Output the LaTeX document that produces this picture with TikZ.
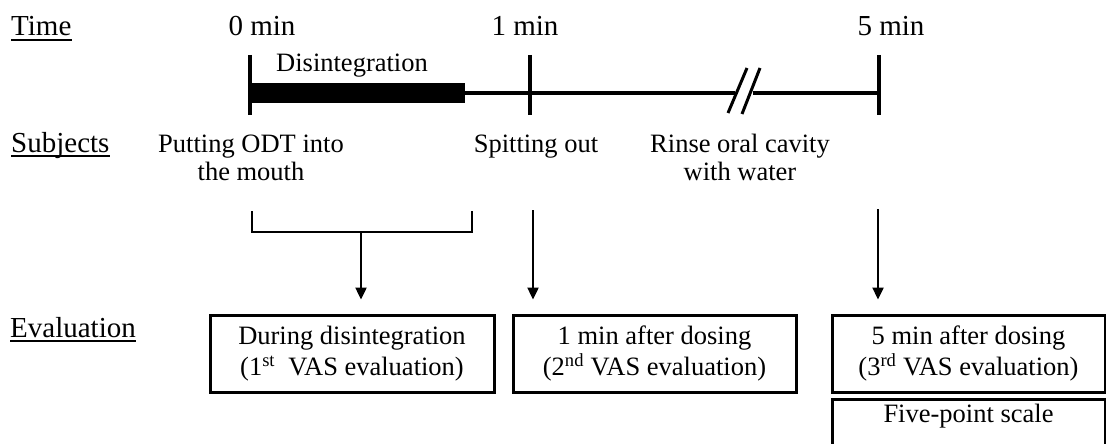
\documentclass[tikz,border=0pt]{standalone}
\usepackage{fontspec}
\setmainfont{Liberation Serif}
\usetikzlibrary{arrows.meta}
\begin{document}
\begin{tikzpicture}[x=1pt,y=-1pt,
  head/.style={anchor=base west,inner sep=0pt,font=\fontsize{29}{35}\selectfont},
  tlabel/.style={anchor=base,inner sep=0pt,font=\fontsize{29}{35}\selectfont},
  body/.style={anchor=base,inner sep=0pt,align=center,font=\fontsize{26.5}{28}\selectfont},
  evalbox/.style={draw,line width=3pt,minimum height=77pt,inner sep=0pt,align=center,font=\fontsize{26.5}{31}\selectfont},
  boxline/.style={draw,line width=3pt},
  tickline/.style={line width=4pt},
  axisline/.style={line width=4pt},
  slash/.style={line width=3pt},
  arr/.style={line width=2.4pt,-{Triangle[width=11pt,length=12pt]},shorten >=14pt},
  uline/.style={line width=1.6pt}]
\useasboundingbox (0,0) rectangle (1106,444);

% headings
\node[head] (time) at (11,36) {Time};
\node[head] (subj) at (11,152) {Subjects};
\node[head] (eval) at (10,337) {Evaluation};
\draw[uline] ([yshift=-4pt]time.base west) -- ([yshift=-4pt]time.base east);
\draw[uline] ([yshift=-4pt]subj.base west) -- ([yshift=-4pt]subj.base east);
\draw[uline] ([yshift=-4pt]eval.base west) -- ([yshift=-4pt]eval.base east);

% time labels
\node[tlabel] (t0) at (262,36) {0 min};
\node[tlabel] (t1) at (525,36) {1 min};
\node[tlabel] (t5) at (891,36) {5 min};
\node[body] (dis) at (352,72) {Disintegration};

% timeline
\coordinate (a0) at (250,93);
\coordinate (a1) at (530,93);
\coordinate (a5) at (879,93);
\coordinate (bl) at (735,93);
\coordinate (br) at (753,93);
\fill (250,83) rectangle (465,103);
\draw[axisline] (a0) -- (bl);
\draw[axisline] (br) -- (a5);
\draw[tickline] ([yshift=38pt]a0) -- ([yshift=-22pt]a0);
\draw[tickline] ([yshift=38pt]a1) -- ([yshift=-22pt]a1);
\draw[tickline] ([yshift=38pt]a5) -- ([yshift=-22pt]a5);
\draw[slash] (728,113) -- (747,68);
\draw[slash] (742,114) -- (760,68);

% subjects (base anchor = last line)
\node[body] (s1) at (251,180) {Putting ODT into\\the mouth};
\node[body] (s2) at (536,152) {Spitting out};
\node[body] (s3) at (740,180) {Rinse oral cavity\\with water};

% bracket
\draw[line width=2.8pt] (252,211) -- (252,232) -- (472,232) -- (472,211);
\coordinate (bk) at (361,232);
\coordinate (sa) at (533,210);
\coordinate (fa) at (878,209);

% evaluation boxes
\node[evalbox,minimum width=284pt] (b1) at (352,353.5) {During disintegration\\(1\textsuperscript{st}\ \ VAS evaluation)};
\node[evalbox,minimum width=283pt] (b2) at (654.5,353.5) {1 min after dosing\\(2\textsuperscript{nd} VAS evaluation)};
\node[evalbox,minimum width=273pt] (b3) at (968.5,353.5) {5 min after dosing\\(3\textsuperscript{rd} VAS evaluation)};
\draw[boxline] (832,399) rectangle (1105,490);
\node[body] (b4) at (968.5,422) {Five-point scale};

% arrows
\draw[arr] (bk) -- (bk |- b1.north);
\draw[arr] (sa) -- (sa |- b2.north);
\draw[arr] (fa) -- (fa |- b3.north);
\end{tikzpicture}
\end{document}
